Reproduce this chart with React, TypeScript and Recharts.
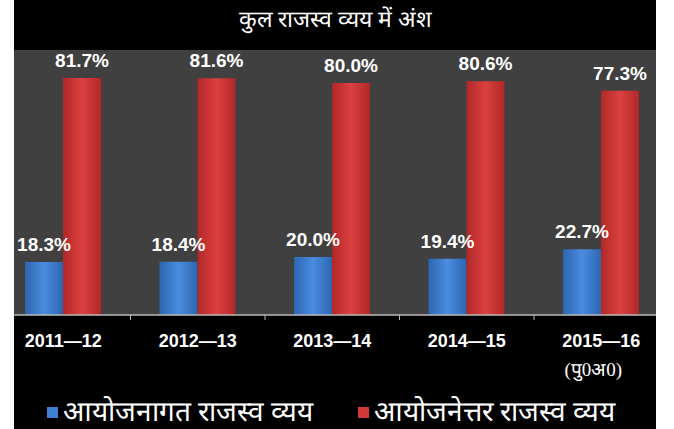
import React from "react";
import { BarChart, Bar, XAxis, YAxis, LabelList } from "recharts";

const years = ["2011—12", "2012—13", "2013—14", "2014—15", "2015—16"];
const yearNotes = ["", "", "", "", "(पु0अ0)"];
const planShare = [18.3, 18.4, 20.0, 19.4, 22.7];
const nonPlanShare = [81.7, 81.6, 80.0, 80.6, 77.3];

const seriesNames = ["आयोजनागत राजस्व व्यय", "आयोजनेत्तर राजस्व व्यय"];
const seriesColors = ["#3d7fd0", "#d33838"];

const data = years.map((y, i) => ({
  year: y,
  plan: planShare[i],
  nonPlan: nonPlanShare[i],
}));

const AXIS_Y = 315;
const BAND = 134.5;

const YearTick = (props: any) => {
  const { x, y, payload, index } = props;
  const note = yearNotes[index];
  const ay = AXIS_Y - y;
  return (
    <g transform={`translate(${x},${y})`}>
      {index < years.length - 1 && (
        <line x1={BAND / 2} x2={BAND / 2} y1={ay} y2={ay + 5} stroke="#bbb" strokeWidth={1} />
      )}
      <text
        x={0}
        y={24}
        textAnchor="middle"
        fill="#fff"
        fontSize={18}
        fontWeight="bold"
        fontFamily="Liberation Sans, Arial, sans-serif"
      >
        {payload.value}
      </text>
      {note && (
        <text x={-8} y={53} textAnchor="middle" fill="#fff" fontSize={19}>
          {note}
        </text>
      )}
    </g>
  );
};

const legendLefts = [47, 358];

const labelFmt = (v: any) => `${Number(v).toFixed(1)}%`;

const labelStyle = {
  fill: "#fff",
  fontSize: 19,
  fontWeight: "bold",
  fontFamily: "Liberation Sans, Arial, sans-serif",
};

export default function App() {
  return (
    <div
      style={{
        position: "absolute",
        top: 0,
        left: 0,
        width: 674,
        height: 429,
        background: "#fff",
        overflow: "hidden",
      }}
    >
      <div
        style={{
          position: "absolute",
          left: 14,
          top: 0,
          width: 642,
          height: 429,
          background: "#000",
          overflow: "hidden",
        }}
      >
        <div
          style={{
            position: "absolute",
            left: 0,
            top: 50,
            width: 642,
            height: 265,
            background: "#404040",
          }}
        />
        <div
          style={{
            position: "absolute",
            left: 0,
            top: 2,
            width: 642,
            textAlign: "center",
            color: "#fff",
            fontSize: 23,
          }}
        >
          कुल राजस्व व्यय में अंश
        </div>
        <div style={{ position: "absolute", left: -18.5, top: 0 }}>
          <BarChart
            width={672.5}
            height={429}
            data={data}
            margin={{ top: 54, right: 0, left: 0, bottom: 84 }}
            barGap={0}
            barSize={38}
          >
            <defs>
              <linearGradient id="gBlue" x1="0" y1="0" x2="1" y2="0">
                <stop offset="0%" stopColor="#2c66b0" />
                <stop offset="50%" stopColor="#4a8ce0" />
                <stop offset="100%" stopColor="#2c66b0" />
              </linearGradient>
              <linearGradient id="gRed" x1="0" y1="0" x2="1" y2="0">
                <stop offset="0%" stopColor="#b02828" />
                <stop offset="50%" stopColor="#dd4040" />
                <stop offset="100%" stopColor="#b02828" />
              </linearGradient>
            </defs>
            <XAxis
              dataKey="year"
              interval={0}
              tick={<YearTick />}
              tickLine={false}
              axisLine={{ stroke: "#bbb", strokeWidth: 1.5 }}
            />
            <YAxis hide domain={[0, 90]} />
            <Bar dataKey="plan" name={seriesNames[0]} fill="url(#gBlue)" isAnimationActive={false}>
              <LabelList dataKey="plan" position="top" offset={11} formatter={labelFmt} {...labelStyle} />
            </Bar>
            <Bar dataKey="nonPlan" name={seriesNames[1]} fill="url(#gRed)" isAnimationActive={false}>
              <LabelList dataKey="nonPlan" position="top" offset={11} formatter={labelFmt} {...labelStyle} />
            </Bar>
          </BarChart>
        </div>
      </div>
      {seriesNames.map((n, i) => (
        <div
          key={n}
          style={{
            position: "absolute",
            left: legendLefts[i],
            top: 396,
            display: "flex",
            alignItems: "center",
            color: "#fff",
            fontSize: 28,
            lineHeight: "32px",
            whiteSpace: "nowrap",
          }}
        >
          <span
            style={{
              display: "inline-block",
              width: 11,
              height: 11,
              background: seriesColors[i],
              marginRight: 5,
            }}
          />
          {n}
        </div>
      ))}
    </div>
  );
}
